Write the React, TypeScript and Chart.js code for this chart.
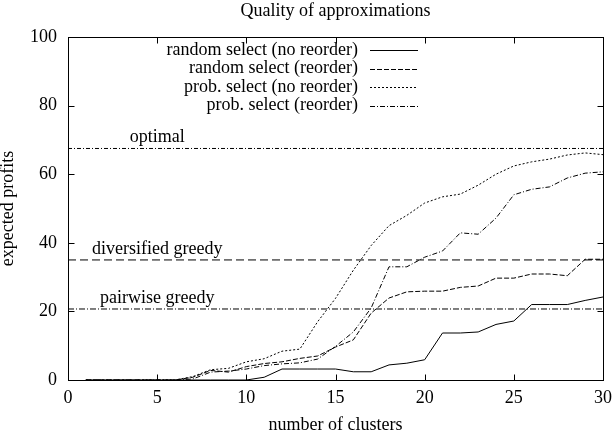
import { useEffect, useRef } from "react";
import { Chart, registerables } from "chart.js";

Chart.register(...registerables);

// ---- data ----
const clusters = [1, 2, 3, 4, 5, 6, 7, 8, 9, 10, 11, 12, 13, 14, 15, 16, 17, 18, 19, 20, 21, 22, 23, 24, 25, 26, 27, 28, 29, 30];
const randomNoReorder = [0, 0, 0, 0, 0, 0, 0, 0, 0, 0, 0.8, 3.2, 3.2, 3.2, 3.2, 2.4, 2.4, 4.4, 4.9, 5.9, 13.7, 13.7, 14.0, 16.2, 17.2, 22.0, 22.0, 22.0, 23.2, 24.2];
const randomReorder = [0, 0, 0, 0, 0, 0, 0.8, 2.8, 2.3, 3.9, 4.8, 5.3, 6.3, 7.0, 9.6, 11.7, 19.5, 23.9, 25.7, 25.9, 25.9, 27.0, 27.4, 29.7, 29.7, 30.9, 30.9, 30.4, 35.2, 35.2];
const probNoReorder = [0, 0, 0, 0, 0, 0, 1.0, 3.0, 3.4, 5.3, 6.2, 8.4, 9.0, 17.0, 23.8, 32.0, 39.2, 45.0, 48.0, 51.6, 53.4, 54.2, 56.8, 60.0, 62.4, 63.6, 64.4, 65.6, 66.2, 65.7];
const probReorder = [0, 0, 0, 0, 0, 0, 0.3, 2.3, 2.6, 3.2, 4.2, 4.7, 5.0, 6.1, 9.8, 14.0, 21.0, 33.0, 33.0, 35.8, 37.6, 42.9, 42.5, 47.2, 54.0, 55.6, 56.3, 58.9, 60.3, 60.7];
const seriesLabels = ["random select (no reorder)", "random select (reorder)", "prob. select (no reorder)", "prob. select (reorder)"];
const seriesDashes: number[][] = [[], [5, 2], [2, 2], [5, 2, 1, 2]];

const referenceLabels = ["optimal", "diversified greedy", "pairwise greedy"];
const referenceValues = [67.5, 35.0, 20.7];
const referenceDashes: number[][] = [[4, 2, 1, 2], [8, 4], [6, 2, 1, 2]];
const referenceLabelX = 5;

const xRange = [0, 30];
const yRange = [0, 100];
const xStep = 5;
const yStep = 20;

const FONT = "'Liberation Serif', 'DejaVu Serif', serif";

const decor = {
  id: "gnuplotDecor",
  afterDraw(chart: any) {
    const { ctx, chartArea: a, scales } = chart;
    const xs = scales.x;
    const ys = scales.y;
    ctx.save();
    ctx.strokeStyle = "#000";
    ctx.lineWidth = 1;
    ctx.setLineDash([]);
    const L = Math.round(a.left) + 0.5;
    const R = Math.round(a.right) + 0.5;
    const T = Math.round(a.top) + 0.5;
    const B = Math.round(a.bottom) + 0.5;
    ctx.strokeRect(L, T, R - L, B - T);
    const tl = 6;
    ctx.beginPath();
    xs.ticks.forEach((t: any) => {
      const px = Math.round(xs.getPixelForValue(t.value)) + 0.5;
      ctx.moveTo(px, B);
      ctx.lineTo(px, B - tl);
      ctx.moveTo(px, T);
      ctx.lineTo(px, T + tl);
    });
    ys.ticks.forEach((t: any) => {
      const py = Math.round(ys.getPixelForValue(t.value)) + 0.5;
      ctx.moveTo(L, py);
      ctx.lineTo(L + tl, py);
      ctx.moveTo(R, py);
      ctx.lineTo(R - tl, py);
    });
    ctx.stroke();

    ctx.fillStyle = "#000";
    ctx.font = `18px ${FONT}`;
    // reference line labels
    ctx.textAlign = "center";
    ctx.textBaseline = "alphabetic";
    referenceLabels.forEach((lab, i) => {
      const x = xs.getPixelForValue(referenceLabelX);
      const y = ys.getPixelForValue(referenceValues[i]) - 6;
      ctx.fillText(lab, x, y);
    });

    // legend
    const textRight = 358;
    const sx0 = 370;
    const sx1 = 418;
    chart.data.datasets.slice(0, seriesLabels.length).forEach((ds: any, i: number) => {
      const y = 50 + 18.5 * i;
      ctx.textAlign = "right";
      ctx.textBaseline = "middle";
      ctx.fillText(ds.label, textRight, y);
      ctx.beginPath();
      ctx.setLineDash(ds.borderDash || []);
      ctx.moveTo(sx0, Math.round(y) + 0.5);
      ctx.lineTo(sx1, Math.round(y) + 0.5);
      ctx.stroke();
    });
    ctx.restore();
  },
};

export default function App() {
  const ref = useRef<HTMLCanvasElement | null>(null);
  useEffect(() => {
    document.body.style.margin = "0";
    const canvas = ref.current;
    if (!canvas) return;
    const seriesValues = [randomNoReorder, randomReorder, probNoReorder, probReorder];
    const datasets: any[] = seriesValues.map((vals, i) => ({
      label: seriesLabels[i],
      data: clusters.map((c, j) => ({ x: c, y: vals[j] })),
      borderColor: "#000",
      borderWidth: 1,
      borderDash: seriesDashes[i],
      pointRadius: 0,
      tension: 0,
      fill: false,
    }));
    referenceValues.forEach((v, i) => {
      datasets.push({
        label: referenceLabels[i],
        data: [
          { x: xRange[0], y: v },
          { x: xRange[1], y: v },
        ],
        borderColor: "#000",
        borderWidth: 1,
        borderDash: referenceDashes[i],
        pointRadius: 0,
        tension: 0,
        fill: false,
      });
    });
    const font = { family: FONT, size: 18, weight: "normal" as const, lineHeight: 1 };
    const chart = new Chart(canvas, {
      type: "line",
      data: { datasets },
      plugins: [decor],
      options: {
        responsive: false,
        animation: false,
        devicePixelRatio: 1,
        layout: { padding: { left: 0, right: 0, top: 0, bottom: 0 } },
        plugins: {
          legend: { display: false },
          tooltip: { enabled: false },
          title: {
            display: true,
            text: "Quality of approximations",
            fullSize: false,
            color: "#000",
            font,
            padding: { top: 2, bottom: 17 },
          },
        },
        scales: {
          x: {
            type: "linear",
            min: xRange[0],
            max: xRange[1],
            ticks: { stepSize: xStep, color: "#000", font, padding: 9.5 },
            grid: { display: false, drawTicks: false },
            border: { display: false },
            title: { display: true, text: "number of clusters", color: "#000", font, padding: { top: 0, bottom: -2 } },
            afterFit: (s: any) => {
              s.height = 52;
              s.paddingLeft = 0;
              s.paddingRight = 9;
            },
          },
          y: {
            type: "linear",
            min: yRange[0],
            max: yRange[1],
            ticks: { stepSize: yStep, color: "#000", font, padding: 11 },
            grid: { display: false, drawTicks: false },
            border: { display: false },
            title: { display: true, text: "expected profits", color: "#000", font, padding: { top: -1, bottom: 0 } },
            afterFit: (s: any) => {
              s.width = 68;
            },
          },
        },
      } as any,
    });
    return () => chart.destroy();
  }, []);
  return <canvas ref={ref} width={612} height={432} style={{ display: "block" }} />;
}
